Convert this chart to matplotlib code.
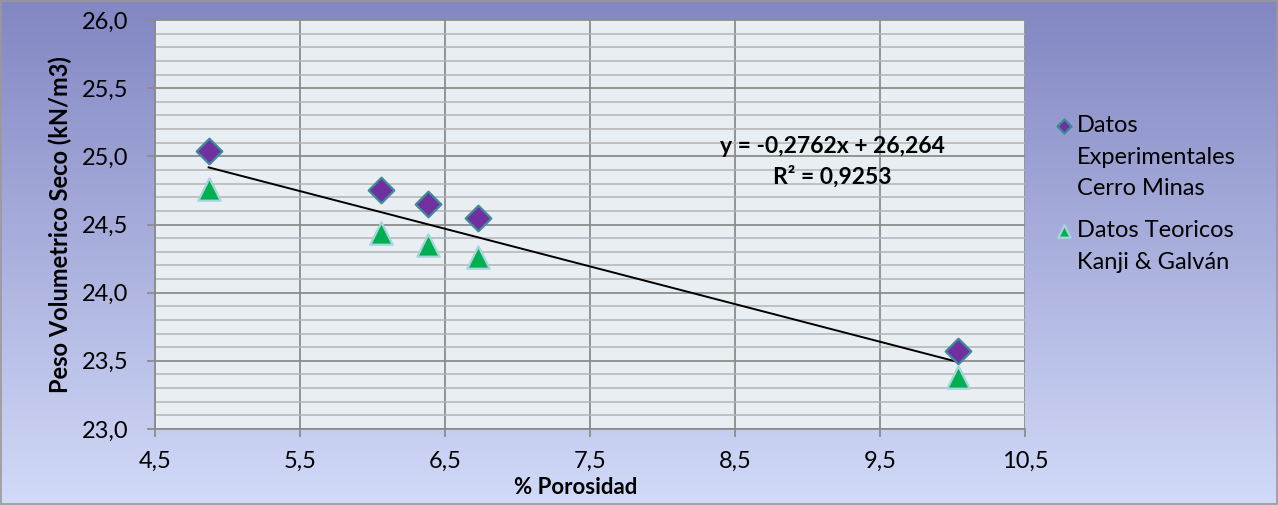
import numpy as np
import matplotlib.pyplot as plt
from matplotlib.ticker import MultipleLocator, FuncFormatter

porosidad = [4.87, 6.06, 6.38, 6.73, 10.04]
peso_experimental = [25.04, 24.75, 24.65, 24.55, 23.57]
peso_teorico = [24.76, 24.44, 24.35, 24.26, 23.38]

pendiente = -0.2762
intercepto = 26.264
r2 = 0.9253

plt.rcParams['font.family'] = ['Lato', 'DejaVu Sans']

fig = plt.figure(figsize=(12.78, 5.05), dpi=100)

# fondo degradado de toda la figura
bg = fig.add_axes([0, 0, 1, 1], zorder=-10)
grad = np.linspace(0, 1, 256).reshape(-1, 1)
top = np.array([0x82, 0x86, 0xC2]) / 255
bottom = np.array([0xD2, 0xDA, 0xF8]) / 255
img = top + (bottom - top) * grad[:, :, None]
bg.imshow(img, aspect='auto', extent=[0, 1, 0, 1])
bg.set_axis_off()
fig.patches.append(plt.Rectangle((0.001, 0.002), 0.998, 0.996, transform=fig.transFigure,
                                 fill=False, edgecolor='#999999', linewidth=1.2))

ax = fig.add_axes([155 / 1278, 1 - 429 / 505, 870 / 1278, 409 / 505])
ax.set_facecolor('#E8EEF2')

ax.set_xlim(4.5, 10.5)
ax.set_ylim(23.0, 26.0)
ax.xaxis.set_major_locator(MultipleLocator(1.0, offset=0.5))
ax.yaxis.set_major_locator(MultipleLocator(0.5))
ax.yaxis.set_minor_locator(MultipleLocator(0.1))
coma = FuncFormatter(lambda v, p: f"{v:.1f}".replace('.', ','))
ax.xaxis.set_major_formatter(coma)
ax.yaxis.set_major_formatter(coma)

ax.grid(which='major', axis='both', color='#8C8C8C', linewidth=1.3)
ax.grid(which='minor', axis='y', color='#B4B4B4', linewidth=1.1)
ax.set_axisbelow(True)
for s in ['top', 'right']:
    ax.spines[s].set_visible(False)
for s in ['left', 'bottom']:
    ax.spines[s].set_color('#8C8C8C')
    ax.spines[s].set_linewidth(1.3)
ax.tick_params(which='major', length=6, width=1.3, color='#8C8C8C', labelsize=17)
ax.tick_params(which='minor', length=0)
ax.tick_params(axis='y', pad=13)
ax.tick_params(axis='x', pad=10)

# línea de tendencia de los datos experimentales
xs = np.array([min(porosidad), max(porosidad)])
ax.plot(xs, pendiente * xs + intercepto, color='black', linewidth=1.4, zorder=2)

ax.scatter(porosidad, peso_experimental, marker='D', s=170, color='#7030A0',
           edgecolors='#3C8C9A', linewidths=1.6, zorder=3,
           label='Datos\nExperimentales\nCerro Minas')
ax.scatter(porosidad, peso_teorico, marker='^', s=260, color='#00B050',
           edgecolors='#A8D4DC', linewidths=1.6, zorder=3,
           label='Datos Teoricos\nKanji & Galván')

ax.text(9.17, 25.075, f"y = {pendiente:.4f}x + {intercepto:.3f}".replace('.', ','),
        ha='center', va='center', fontsize=16.5, fontweight='bold')
ax.text(9.17, 24.855, f"R² = {r2:.4f}".replace('.', ','),
        ha='center', va='center', fontsize=16.5, fontweight='bold')

ax.set_xlabel('% Porosidad', fontsize=16, fontweight='bold')
ax.xaxis.set_label_coords(0.483, -0.118)
ax.set_ylabel('Peso Volumetrico Seco (kN/m3)', fontsize=17, fontweight='bold')
ax.yaxis.set_label_coords(-0.095, 0.5)

leg = ax.legend(loc='upper left', bbox_to_anchor=(1.02, 0.79), frameon=False,
                fontsize=17, handletextpad=0.05, handlelength=1.0,
                labelspacing=0.88, markerscale=0.55, borderaxespad=0)
for t in leg.get_texts():
    t.set_linespacing(1.62)
# marcador alineado con la primera línea de cada entrada
for col in leg._legend_handle_box.get_children():
    for entry in col.get_children():
        entry.align = 'top'

fig.savefig('out.png', dpi=100)
